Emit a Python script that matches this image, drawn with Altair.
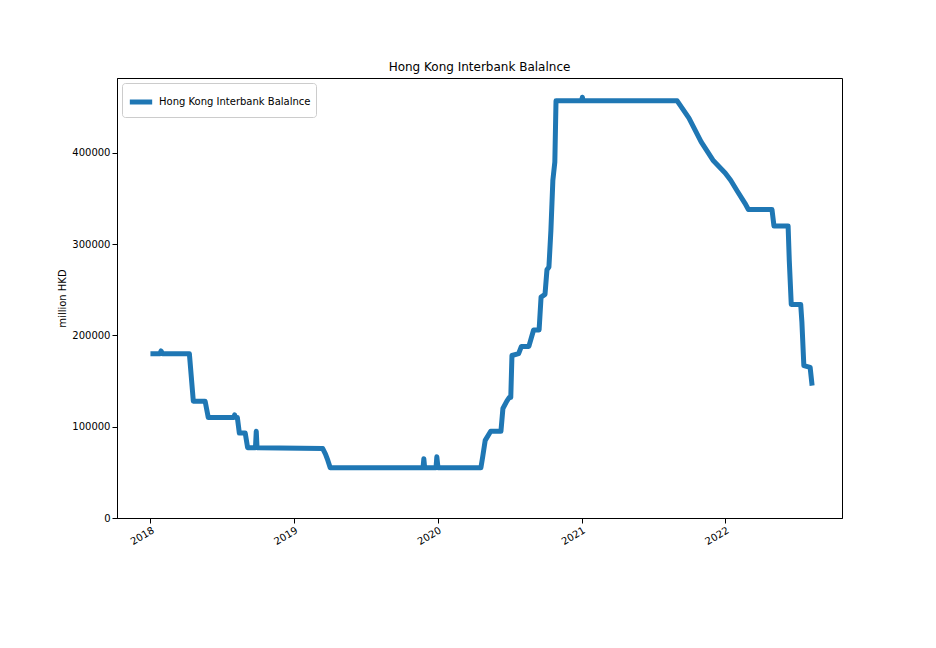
import altair as alt
import pandas as pd

dates = [
    "2018-01-01", "2018-01-25", "2018-01-28", "2018-02-01", "2018-04-10", "2018-04-20",
    "2018-05-20", "2018-05-28", "2018-08-01", "2018-08-03", "2018-08-05", "2018-08-10", "2018-08-15",
    "2018-08-30", "2018-09-05", "2018-09-25", "2018-09-27", "2018-09-29", "2018-10-02",
    "2019-03-15", "2019-03-22", "2019-03-28", "2019-04-03", "2019-11-25", "2019-11-27",
    "2019-11-29", "2019-12-28", "2019-12-30", "2020-01-02", "2020-04-20", "2020-04-25",
    "2020-05-01", "2020-05-15", "2020-06-10", "2020-06-15", "2020-06-25", "2020-07-01",
    "2020-07-05", "2020-07-08", "2020-07-25", "2020-08-01", "2020-08-20", "2020-09-01",
    "2020-09-15", "2020-09-20", "2020-09-30", "2020-10-05", "2020-10-10", "2020-10-15",
    "2020-10-20", "2020-10-25", "2020-10-28", "2021-01-01", "2021-01-03", "2021-01-05",
    "2021-09-01", "2021-10-01", "2021-11-01", "2021-12-01", "2022-01-01", "2022-01-15",
    "2022-02-01", "2022-02-20", "2022-03-01", "2022-04-30", "2022-05-05", "2022-06-10",
    "2022-06-13", "2022-06-18", "2022-06-22", "2022-07-12", "2022-07-15", "2022-07-20",
    "2022-08-05", "2022-08-10",
]
values = [
    180000, 180000, 183000, 180000, 180000, 128000,
    128000, 110000, 110000, 113000, 110000, 110000, 93000,
    93000, 77000, 77000, 95000, 77000, 77000,
    76000, 70000, 63000, 55000, 55000, 65000,
    55000, 55000, 67000, 55000, 55000, 68000,
    85000, 95000, 95000, 120000, 128000, 132000,
    132000, 178000, 180000, 188000, 188000, 206000,
    206000, 242000, 245000, 272000, 275000, 315000,
    370000, 390000, 457000, 457000, 461000, 457000,
    457000, 438000, 412000, 392000, 378000, 370000,
    358000, 345000, 338000, 338000, 320000, 320000,
    282000, 234000, 234000, 234000, 215000, 167000,
    165000, 145000,
]
label = "Hong Kong Interbank Balalnce"

df = pd.DataFrame({"date": pd.to_datetime(dates), "value": values, "series": label})

chart = (
    alt.Chart(df)
    .mark_line(strokeWidth=5, strokeJoin="round")
    .encode(
        x=alt.X(
            "date:T",
            title=None,
            scale=alt.Scale(domain=["2017-10-08", "2022-10-25"]),
            axis=alt.Axis(
                format="%Y", tickCount={"interval": "year", "step": 1},
                labelAngle=-30, labelAlign="right", labelBaseline="top", grid=False,
            ),
        ),
        y=alt.Y(
            "value:Q",
            title="million HKD",
            scale=alt.Scale(domain=[0, 482000], nice=False),
            axis=alt.Axis(values=[0, 100000, 200000, 300000, 400000], format="d", grid=False),
        ),
        color=alt.Color(
            "series:N",
            scale=alt.Scale(range=["#1f77b4"]),
            legend=alt.Legend(
                title=None, orient="top-left", symbolType="stroke", symbolStrokeWidth=5,
                symbolSize=500, strokeColor="#cccccc", fillColor="white", padding=5,
                cornerRadius=3, offset=5, labelFontSize=10, labelFont="DejaVu Sans",
            ),
        ),
    )
    .properties(
        title=alt.Title(label, fontSize=12, fontWeight="normal", font="DejaVu Sans"),
        width=725,
        height=440,
        autosize=alt.AutoSizeParams(type="none"),
        padding={"left": 109, "top": 70, "right": 86, "bottom": 122},
    )
    .configure_view(stroke="black")
    .configure_axis(
        domainColor="black", tickColor="black", labelColor="black", labelFont="DejaVu Sans",
        titleFont="DejaVu Sans", labelFontSize=10, titleFontSize=10, titleFontWeight="normal",
        domain=True,
    )
)

chart.save("out.html", embed_options={"renderer": "svg", "actions": False})
